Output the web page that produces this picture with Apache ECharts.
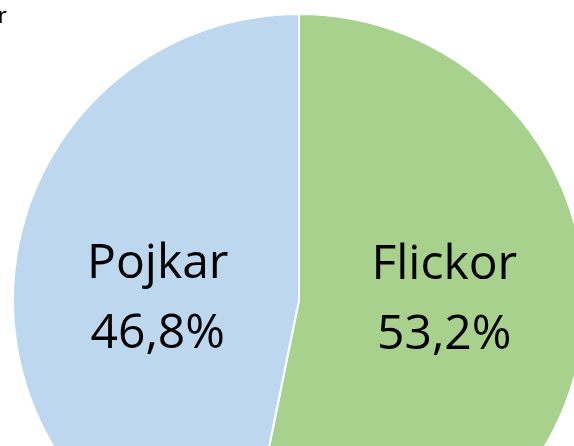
<!DOCTYPE html>
<html>
<head>
<meta charset="utf-8">
<script src="https://cdn.jsdelivr.net/npm/echarts@6/dist/echarts.min.js"></script>
<style>
  html, body { margin: 0; padding: 0; background: #fff; }
  #chart { width: 574px; height: 446px; }
</style>
</head>
<body>
<div id="chart"></div>
<script>
const categories = ['Flickor', 'Pojkar'];
const shares = [53.2, 46.8];
const colors = ['#A9D18E', '#BDD7EE'];
const labelOffsets = [[0, -14], [4, 14]];

const chart = echarts.init(document.getElementById('chart'));

const pieData = categories.map(function (name, i) {
  return {
    name: name,
    value: shares[i],
    itemStyle: { color: colors[i] },
    label: { offset: labelOffsets[i] }
  };
});

chart.setOption({
  animation: false,
  title: {
    text: 'r',
    left: -2,
    top: 6,
    padding: 0,
    textStyle: { fontFamily: 'Open Sans', fontSize: 22, fontWeight: 'normal', color: '#000' }
  },
  series: [{
    type: 'pie',
    center: [299, 300],
    radius: 286,
    startAngle: 90,
    clockwise: true,
    data: pieData,
    itemStyle: { borderColor: '#fff', borderWidth: 2 },
    label: {
      show: true,
      position: 'inside',
      formatter: function (p) {
        return p.name + '\n' + p.value.toFixed(1).replace('.', ',') + '%';
      },
      fontFamily: 'Open Sans',
      fontSize: 48,
      lineHeight: 70,
      color: '#000'
    },
    labelLine: { show: false }
  }]
});
</script>
</body>
</html>
